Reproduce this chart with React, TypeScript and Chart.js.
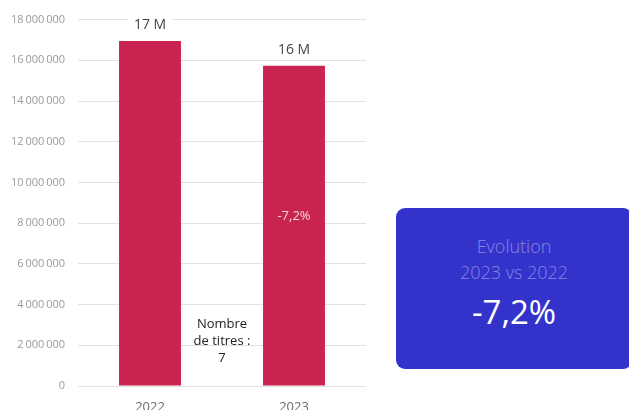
import React, { useEffect, useRef } from "react";
import { Chart, registerables } from "chart.js";

Chart.register(...registerables);

const categories = ["2022", "2023"];
const values = [16950000, 15730000];
const valueLabels = ["17 M", "16 M"];
const changeLabel = "-7,2%";
const noteLines = ["Nombre", "de titres :", "7"];
const cardTitle = ["Evolution", "2023 vs 2022"];
const cardValue = "-7,2%";

const FONT = "'Open Sans', 'Noto Sans', sans-serif";

const fmt = (v: number) =>
  String(Math.round(v)).replace(/\B(?=(\d{3})+(?!\d))/g, "\u2009");

const labelPlugin = {
  id: "labels",
  afterDatasetsDraw(chart: any) {
    const ctx = chart.ctx;
    const meta = chart.getDatasetMeta(0);
    ctx.save();
    ctx.textAlign = "center";
    ctx.textBaseline = "middle";
    meta.data.forEach((bar: any, i: number) => {
      ctx.font = `14px ${FONT}`;
      const t = valueLabels[i];
      const w = ctx.measureText(t).width + 12;
      const y = bar.y - 16;
      ctx.fillStyle = "#ffffff";
      ctx.fillRect(bar.x - w / 2, y - 10, w, 20);
      ctx.fillStyle = "#444444";
      ctx.fillText(t, bar.x, y);
    });
    const last = meta.data[meta.data.length - 1];
    ctx.font = `13px ${FONT}`;
    ctx.fillStyle = "#f6d4dc";
    ctx.fillText(changeLabel, last.x, (last.y + last.base) / 2 - 9);
    const ca = chart.chartArea;
    const cx = (ca.left + ca.right) / 2;
    ctx.font = `13px ${FONT}`;
    ctx.fillStyle = "#222222";
    noteLines.forEach((l, i) => ctx.fillText(l, cx, ca.bottom - 62 + i * 17));
    ctx.restore();
  },
};

export default function App() {
  const ref = useRef<HTMLCanvasElement>(null);
  useEffect(() => {
    if (!ref.current) return;
    const chart = new Chart(ref.current, {
      type: "bar",
      data: {
        labels: categories,
        datasets: [
          {
            data: values,
            backgroundColor: "#c9244f",
            barPercentage: 0.86,
            categoryPercentage: 0.5,
          },
        ],
      },
      options: {
        animation: false,
        responsive: false,
        maintainAspectRatio: false,
        layout: { padding: { top: 16, right: 14, left: 0, bottom: 0 } },
        plugins: { legend: { display: false }, tooltip: { enabled: false } },
        scales: {
          x: {
            grid: { display: false },
            border: { display: false },
            ticks: { color: "#6a6a6a", font: { family: FONT, size: 13 }, padding: 5 },
            afterFit: (s: any) => {
              s.height = 34;
            },
          },
          y: {
            min: 0,
            max: 18000000,
            border: { display: false },
            grid: { color: "#e1e1e1", drawTicks: false },
            ticks: {
              stepSize: 2000000,
              color: "#9a9a9a",
              font: { family: FONT, size: 11 },
              padding: 13,
              callback: (v: any) => fmt(Number(v)),
            },
            afterFit: (s: any) => {
              s.width = 78;
            },
          },
        },
      },
      plugins: [labelPlugin],
    });
    return () => chart.destroy();
  }, []);

  return (
    <div style={{ position: "absolute", left: 0, top: 0, width: 629, height: 410, overflow: "hidden", background: "#fff" }}>
      <canvas ref={ref} width={380} height={420} style={{ position: "absolute", left: 0, top: 0 }} />
      <div
        style={{
          position: "absolute",
          left: 396,
          top: 208,
          width: 236,
          height: 161,
          background: "#3333cc",
          borderRadius: 9,
          fontFamily: FONT,
          textAlign: "center",
        }}
      >
        <div style={{ position: "absolute", top: 25, left: 0, right: 0, color: "#8585e3", fontSize: 18, fontWeight: 300, lineHeight: "26px" }}>
          {cardTitle[0]}
          <br />
          {cardTitle[1]}
        </div>
        <div style={{ position: "absolute", top: 82, left: 0, right: 0, color: "#ffffff", fontSize: 33, lineHeight: "44px" }}>
          {cardValue}
        </div>
      </div>
    </div>
  );
}
